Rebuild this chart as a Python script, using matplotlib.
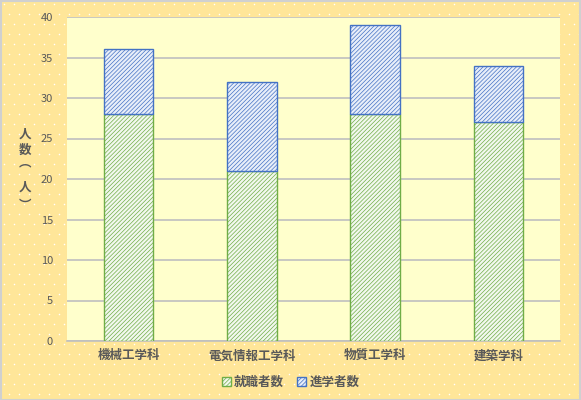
import numpy as np
import matplotlib
matplotlib.use("Agg")
import matplotlib.pyplot as plt
from matplotlib.patches import Rectangle

plt.rcParams['font.family'] = ['Noto Sans CJK JP', 'DejaVu Sans']

# データ
学科 = ['機械工学科', '電気情報工学科', '物質工学科', '建築学科']
就職者数 = [28, 21, 28, 27]
進学者数 = [8, 11, 11, 7]
y目盛 = [0, 5, 10, 15, 20, 25, 30, 35, 40]

文字色 = '#595959'
緑 = '#70AD47'
青 = '#4472C4'

fig = plt.figure(figsize=(5.81, 4.0), dpi=100, facecolor='#FFE699')

# 背景の点模様（飾り）
bg = fig.add_axes([0, 0, 1, 1], zorder=-5)
bg.set_xlim(0, 581)
bg.set_ylim(400, 0)
bg.axis('off')
gx, gy = np.meshgrid(np.arange(4, 581, 10), np.arange(4, 400, 10))
gx = gx + (np.arange(gy.shape[0])[:, None] % 2) * 5
bg.scatter(gx.ravel(), gy.ravel(), s=1.2, c='white', linewidths=0)
fig.patches.append(Rectangle((0.001, 0.001), 0.998, 0.997, transform=fig.transFigure,
                             facecolor='none', edgecolor='#D0D0D0', linewidth=1.5))

ax = fig.add_axes([67 / 581, 1 - 341 / 400, (560 - 67) / 581, (341 - 17) / 400])
ax.set_facecolor('#FFFFCC')

plt.rcParams['hatch.linewidth'] = 0.5
x = np.arange(len(学科))
ax.bar(x, 就職者数, width=0.4, facecolor='#F2F8EE', edgecolor=緑, hatch='////////',
       linewidth=1.0, label='就職者数', zorder=3)
ax.bar(x, 進学者数, bottom=就職者数, width=0.4, facecolor='#E8EEF9', edgecolor=青,
       hatch='////////', linewidth=1.0, label='進学者数', zorder=3)

ax.set_xlim(-0.5, len(学科) - 0.5)
ax.set_ylim(0, 40)
ax.set_yticks(y目盛)
ax.set_xticks(x)
ax.set_xticklabels(学科, fontsize=9, fontweight='bold', color=文字色)
ax.tick_params(axis='y', labelsize=8, labelcolor=文字色, length=0, pad=10)
ax.tick_params(axis='x', length=0, pad=6)
ax.grid(axis='y', color='#BFBFBF', linewidth=1.2, zorder=0)
for s in ['top', 'right', 'left']:
    ax.spines[s].set_visible(False)
ax.spines['bottom'].set_color('#BFBFBF')
ax.spines['bottom'].set_linewidth(1.2)

# 縦書きの軸ラベル
for ch, yy in zip(['人', '数', '︵', '人', '︶'], [134, 150, 163, 187, 205]):
    fig.text(25 / 581, 1 - yy / 400, ch, ha='center', va='center',
             fontsize=9, fontweight='bold', color=文字色)

leg = fig.legend(loc='center', bbox_to_anchor=(0.5, 1 - 382 / 400), ncol=2, frameon=False,
                 fontsize=9, handlelength=0.7, handleheight=0.7, handletextpad=0.3,
                 columnspacing=1.0)
for t in leg.get_texts():
    t.set_color(文字色)
    t.set_fontweight('bold')

fig.savefig('out.png', dpi=100, facecolor=fig.get_facecolor())
